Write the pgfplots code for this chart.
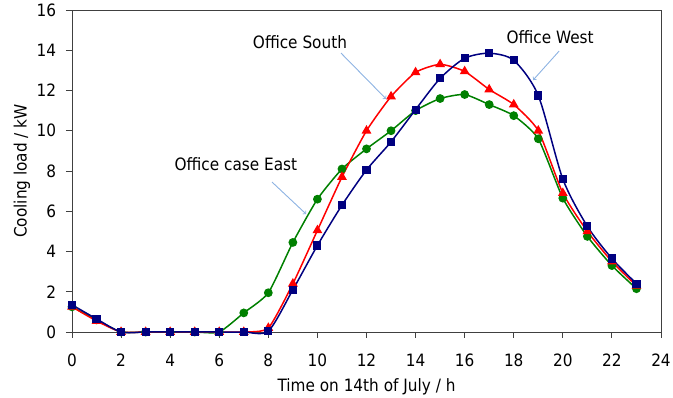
\documentclass[border=0pt]{standalone}
\usepackage{pgfplots}
\pgfplotsset{compat=1.18}
\usepackage{fontspec}
\setmainfont{DejaVu Sans}[FakeStretch=0.9]
\definecolor{cwest}{HTML}{000080}
\definecolor{csouth}{HTML}{FF0000}
\definecolor{ceast}{HTML}{008000}
\definecolor{carrow}{HTML}{8DB3E2}
\begin{document}
\fontsize{17pt}{20pt}\selectfont
\begin{tikzpicture}
\useasboundingbox (-72pt,-66pt) rectangle (601pt,332pt);
\begin{axis}[
  at={(0pt,0pt)}, anchor=south west,
  scale only axis, width=589pt, height=322pt,
  xmin=0, xmax=24, ymin=0, ymax=16,
  xtick={0,2,...,24}, ytick={0,2,...,16},
  tick align=outside, tick pos=left,
  major tick length=6pt,
  axis line style={black!75, line width=0.9pt},
  every tick/.style={black!75, line width=0.9pt},
  tick label style={font=\fontsize{17pt}{20pt}\selectfont},
  xticklabel style={yshift=-10pt},
  yticklabel style={xshift=-4pt},
  label style={font=\fontsize{17pt}{20pt}\selectfont},
  ylabel shift=-5pt,
  /pgf/number format/assume math mode=true,
  xlabel={Time on 14th of July / h},
  ylabel={Cooling load / kW},
  clip=false,
]
\addplot[color=ceast, line width=1.5pt, smooth, tension=0.35, mark=*, mark size=3.6pt, mark options={fill=ceast}] coordinates {
(0,1.25)(1,0.6)(2,0)(3,0)(4,0)(5,0)(6,0)(7,0.95)(8,1.95)(9,4.45)(10,6.6)(11,8.1)
(12,9.1)(13,10.0)(14,11.0)(15,11.6)(16,11.8)(17,11.3)(18,10.75)(19,9.6)(20,6.65)
(21,4.75)(22,3.3)(23,2.15)};
\addplot[color=csouth, line width=1.5pt, smooth, tension=0.35, mark=triangle*, mark size=4.2pt, mark options={fill=csouth}] coordinates {
(0,1.25)(1,0.55)(2,0)(3,0)(4,0)(5,0)(6,0)(7,0)(8,0.2)(9,2.4)(10,5.05)(11,7.7)
(12,10.0)(13,11.7)(14,12.9)(15,13.3)(16,12.95)(17,12.05)(18,11.3)(19,10.0)(20,6.9)
(21,5.0)(22,3.5)(23,2.3)};
\addplot[color=cwest, line width=1.5pt, smooth, tension=0.45, mark=square*, mark size=3.3pt, mark options={fill=cwest}] coordinates {
(0,1.35)(1,0.65)(2,0)(3,0)(4,0)(5,0)(6,0)(7,0)(8,0.05)(9,2.1)(10,4.3)(11,6.3)
(12,8.05)(13,9.45)(14,11.05)(15,12.6)(16,13.6)(17,13.85)(18,13.5)(19,11.75)(20,7.6)
(21,5.25)(22,3.65)(23,2.4)};
\draw[black!75, line width=0.9pt] (rel axis cs:0,1) -- (rel axis cs:1,1) -- (rel axis cs:1,0);
\node at (axis cs:9.29,14.41) {Office South};
\node at (axis cs:6.68,8.35) {Office case East};
\node at (axis cs:19.48,14.66) {Office West};
\draw[carrow, line width=0.9pt, -to] (axis cs:10.96,13.86) -- (axis cs:12.80,11.58);
\draw[carrow, line width=0.9pt, -to] (axis cs:8.15,7.45) -- (axis cs:9.54,5.86);
\draw[carrow, line width=0.9pt, -to] (axis cs:19.85,13.96) -- (axis cs:18.79,12.52);
\end{axis}
\end{tikzpicture}
\end{document}
